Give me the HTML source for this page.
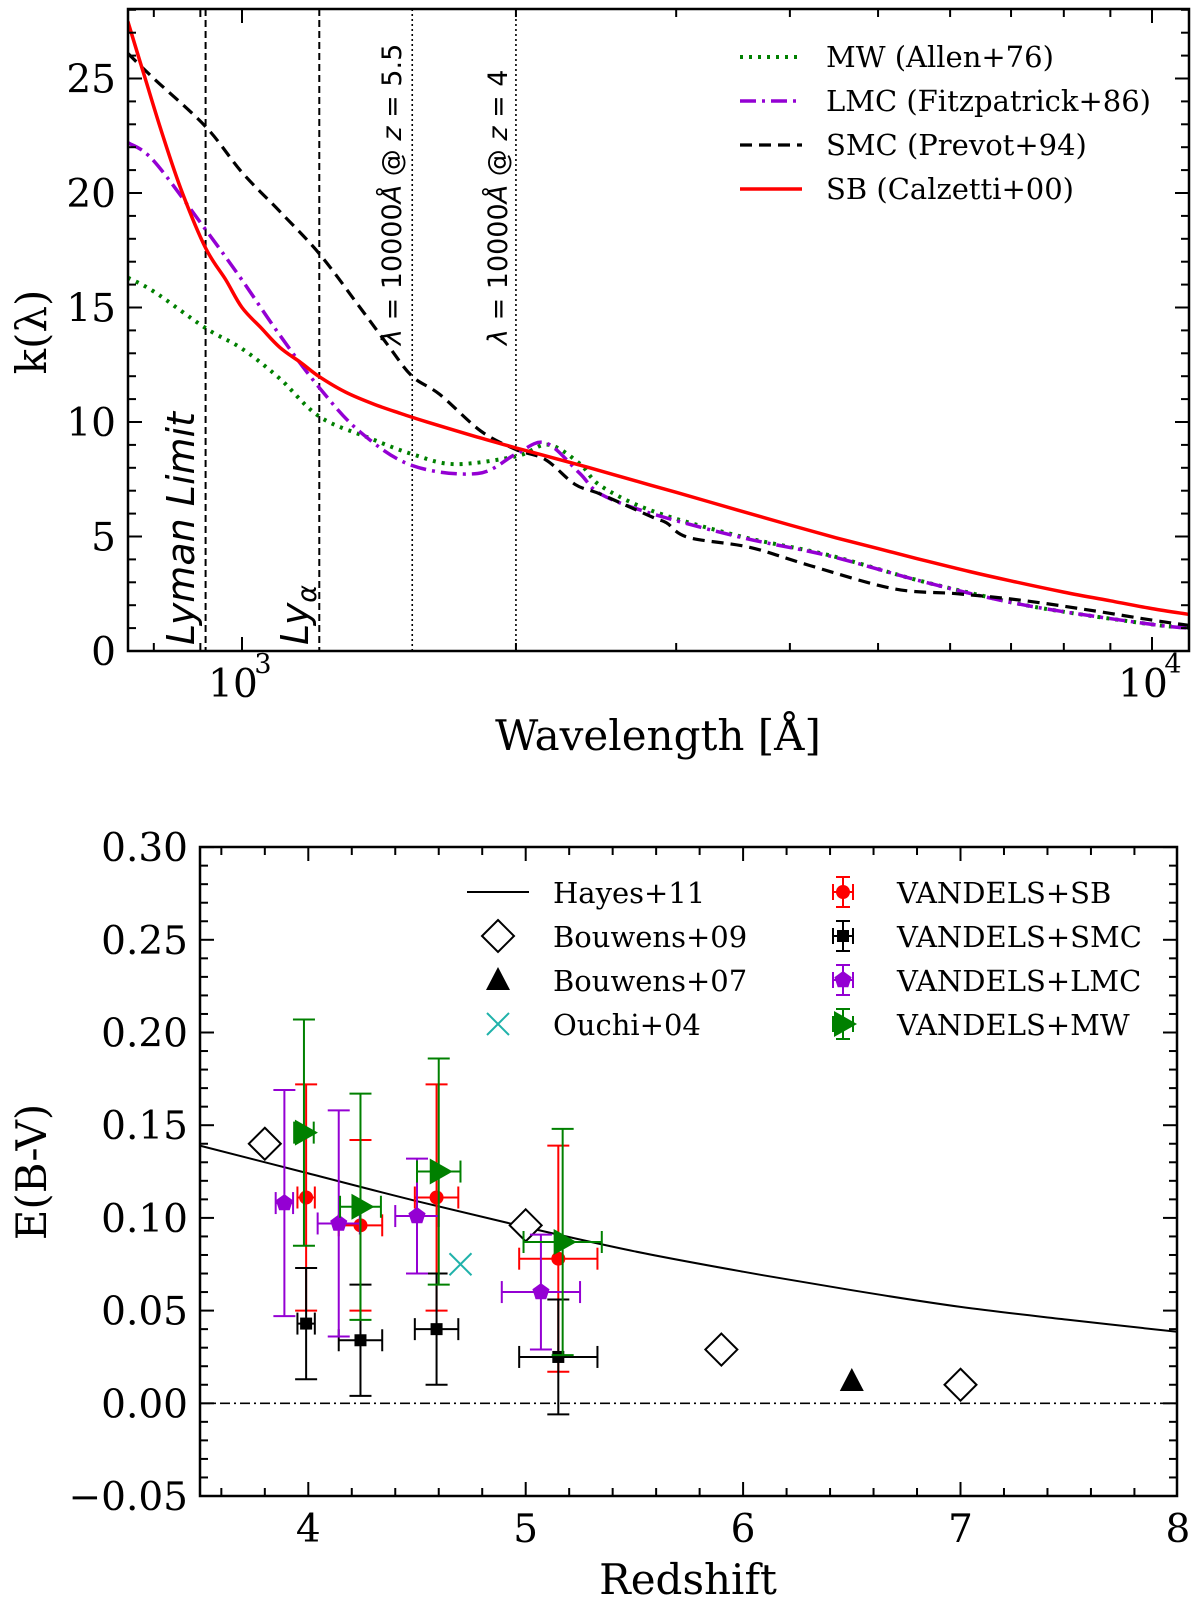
<!DOCTYPE html>
<html><head><meta charset="utf-8"><style>
html,body{margin:0;padding:0;background:#fff;}
svg{display:block;}
text{font-family:"DejaVu Serif","Liberation Serif",serif;fill:#000;}
.sans{font-family:"DejaVu Sans","Liberation Sans",sans-serif;}
</style></head><body>
<svg id="fig" width="1200" height="1599" viewBox="0 0 1200 1599" xmlns="http://www.w3.org/2000/svg">
<g id="top"></g>
<g id="bot"></g>
</svg>
<script>
// ---------- top panel data ----------
const sbWl = [749,780,820,860,912,960,1000,1050,1100,1160,1216,1300,1400,1500,1600,1800,2000,2175,2400,2700,3000,3500,4000,4500,5000,5500,6300,7000,8000,9000,10000,10985];
const sbK = [27.5,25.2,22.4,20.0,17.6,16.2,15.0,14.1,13.26,12.6,11.98,11.3,10.76,10.35,9.99,9.38,8.87,8.48,8.02,7.44,6.93,6.16,5.5,4.94,4.47,4.05,3.47,3.06,2.57,2.19,1.85,1.6];
const smcWl = [749,800,912,1000,1100,1216,1348,1450,1538,1650,1831,2000,2155,2322,2481,2831,2927,3093,3612,4210,5198,6119,7208,8492,10000,10985];
const smcK = [26.1,25.0,22.9,20.9,19.2,17.35,15.0,13.3,12.0,11.2,9.6,8.8,8.36,7.28,6.84,5.83,5.6,4.96,4.53,3.73,2.72,2.5,2.21,1.8,1.35,1.12];
const lmcWl = [749,800,912,1000,1100,1216,1348,1538,1815,2000,2155,2347,2481,2831,3536,4400,5458,6450,7616,10000,10985];
const lmcK = [22.2,21.4,18.4,16.2,13.8,11.5,9.57,8.1,7.75,8.6,9.09,7.78,6.84,5.98,4.96,4.17,3.15,2.43,1.85,1.16,1.0];
const mwWl = [749,800,912,1000,1100,1216,1380,1538,1712,2000,2170,2347,2481,2831,3536,4400,5458,6450,7616,10000,10985];
const mwK = [16.3,15.7,14.1,13.2,11.9,10.24,9.3,8.6,8.16,8.5,9.01,8.2,7.2,6.1,5.0,4.2,3.15,2.45,1.85,1.16,1.02];
const topYTicks = [0,5,10,15,20,25];
const vLines = [912,1216,1538.46,2000];

// ---------- bottom panel data ----------
const hayesZ = [3.5,4,4.5,5,5.5,6,6.5,7,7.5,8];
const hayesE = [0.139,0.124,0.109,0.095,0.082,0.071,0.061,0.052,0.045,0.0385];
const b09Z = [3.8,5.0,5.9,7.0];
const b09E = [0.140,0.096,0.029,0.010];
const b07Z = [6.5];
const b07E = [0.012];
const ouZ = [4.7];
const ouE = [0.075];
const sbZ = [3.99,4.24,4.59,5.15];
const sbE = [0.111,0.096,0.111,0.078];
const sbEerr = [0.061,0.046,0.061,0.061];
const sbZerr = [0.04,0.1,0.1,0.18];
const smcZ = [3.99,4.24,4.59,5.15];
const smcE = [0.043,0.034,0.040,0.025];
const smcEerr = [0.030,0.030,0.030,0.031];
const smcZerr = [0.04,0.1,0.1,0.18];
const lmcZ = [3.89,4.14,4.50,5.07];
const lmcE = [0.108,0.097,0.101,0.060];
const lmcEerr = [0.061,0.061,0.031,0.031];
const lmcZerr = [0.04,0.097,0.1,0.18];
const mwZ = [3.98,4.24,4.60,5.17];
const mwE = [0.146,0.106,0.125,0.087];
const mwEerr = [0.061,0.061,0.061,0.061];
const mwZerr = [0.045,0.094,0.1,0.18];
const botYTicks = [-0.05,0,0.05,0.10,0.15,0.20,0.25,0.30];
const botXTicks = [4,5,6,7,8];

const NS = "http://www.w3.org/2000/svg";
function mk(parent, tag, attrs, txt){
  const e = document.createElementNS(NS, tag);
  for (const k in attrs) e.setAttribute(k, attrs[k]);
  if (txt !== undefined) e.textContent = txt;
  parent.appendChild(e);
  return e;
}
function smoothPath(pts){
  let d = 'M'+pts[0][0].toFixed(1)+','+pts[0][1].toFixed(1);
  for(let i=0;i<pts.length-1;i++){
    const p0=pts[Math.max(0,i-1)], p1=pts[i], p2=pts[i+1], p3=pts[Math.min(pts.length-1,i+2)];
    const c1x=p1[0]+(p2[0]-p0[0])/6, c1y=p1[1]+(p2[1]-p0[1])/6;
    const c2x=p2[0]-(p3[0]-p1[0])/6, c2y=p2[1]-(p3[1]-p1[1])/6;
    d += 'C'+c1x.toFixed(1)+','+c1y.toFixed(1)+' '+c2x.toFixed(1)+','+c2y.toFixed(1)+' '+p2[0].toFixed(1)+','+p2[1].toFixed(1);
  }
  return d;
}
// ---------- TOP ----------
const T = document.getElementById('top');
const tL=128, tR=1189, tT=9, tB=651;
const xT = w => 242 + (Math.log10(w)-3)*910;
const yT = k => 651 - k*22.9;
const clipT = mk(T,'clipPath',{id:'ct'});
mk(clipT,'rect',{x:tL,y:tT,width:tR-tL,height:tB-tT});

vLines.forEach((w,i)=>{
  const l = mk(T,'line',{x1:xT(w),x2:xT(w),y1:tT,y2:tB,stroke:'#000','stroke-width':i<2?2:1.6,'stroke-dasharray':i<2?'7 4':'2 3'});
  
  
});

function curve(wl, kv, color, dash, width, name){
  const pts = wl.map((w,i)=>[xT(w), yT(kv[i])]);
  const p = mk(T,'path',{d:smoothPath(pts),fill:'none',stroke:color,'stroke-width':width,'stroke-dasharray':dash,'clip-path':'url(#ct)','stroke-linejoin':'round'});
  
  
}
curve(mwWl, mwK, '#008000', '3 6', 4, 'mw-curve');
curve(lmcWl, lmcK, '#9400d3', '16 6 3 6', 3.5, 'lmc-curve');
curve(smcWl, smcK, '#000', '12 7', 3.2, 'smc-curve');
curve(sbWl, sbK, '#ff0000', '', 3.5, 'sb-curve');

const fT = mk(T,'rect',{x:tL,y:tT,width:tR-tL,height:tB-tT,fill:'none',stroke:'#000','stroke-width':2.5});


for(let k=0;k<=28;k++){
  const len = (k%5===0)?14:8;
  mk(T,'line',{x1:tL,x2:tL+len,y1:yT(k),y2:yT(k),stroke:'#000','stroke-width':2});
  mk(T,'line',{x1:tR,x2:tR-len,y1:yT(k),y2:yT(k),stroke:'#000','stroke-width':2});
}
topYTicks.forEach(v=>{
  const t = mk(T,'text',{x:116,y:yT(v)+14,'font-size':39,'text-anchor':'end'},String(v));
  
  
});
for(let dec=100; dec<=10000; dec*=10){
  for(let m=1;m<10;m++){
    const w = dec*m;
    if (w<749 || w>10985) continue;
    const x = xT(w), len = (m===1)?14:8;
    mk(T,'line',{x1:x,x2:x,y1:tB,y2:tB-len,stroke:'#000','stroke-width':2});
    mk(T,'line',{x1:x,x2:x,y1:tT,y2:tT+len,stroke:'#000','stroke-width':2});
  }
}
[[1000,'3'],[10000,'4']].forEach(([w,e])=>{
  const t = mk(T,'text',{x:xT(w)-9,y:697,'font-size':39,'text-anchor':'middle'},'10');
  
  
  mk(T,'text',{x:xT(w)+21,y:673,'font-size':27,'text-anchor':'middle'},e);
});
let t1 = mk(T,'text',{x:658,y:750,'font-size':42,'text-anchor':'middle'},'Wavelength [Å]');


let t2 = mk(T,'text',{x:0,y:0,'font-size':42,'text-anchor':'middle',transform:'translate(46,332) rotate(-90)'},'k(λ)');


let a1 = mk(T,'text',{x:0,y:0,'font-size':38,'font-style':'italic',class:'sans',transform:'translate(194,645) rotate(-90)'},'Lyman Limit');


let a2 = mk(T,'text',{x:0,y:0,'font-size':38,'font-style':'italic',class:'sans',transform:'translate(308,645) rotate(-90)'},'');


mk(a2,'tspan',{},'Ly');
mk(a2,'tspan',{'font-size':27,dy:8},'α');
function zlab(x, z, name){
  const t = mk(T,'text',{x:0,y:0,'font-size':27,class:'sans',transform:'translate('+x+',345) rotate(-90)'},'');
  
  
  mk(t,'tspan',{'font-style':'italic'},'λ');
  mk(t,'tspan',{},' = 10000');
  mk(t,'tspan',{'font-style':'italic'},'Å');
  mk(t,'tspan',{},' @ ');
  mk(t,'tspan',{'font-style':'italic'},'z');
  mk(t,'tspan',{},' = '+z);
}
zlab(401,'5.5','z55-label');
zlab(507,'4','z4-label');
const legT = [['MW (Allen+76)','#008000','3 6',4],['LMC (Fitzpatrick+86)','#9400d3','16 6 3 6',3.5],['SMC (Prevot+94)','#000','12 7',3.2],['SB (Calzetti+00)','#ff0000','',3.5]];
legT.forEach((r,i)=>{
  const y = 57 + i*44;
  const g = mk(T,'g',{});
  
  
  mk(g,'line',{x1:740,x2:802,y1:y,y2:y,stroke:r[1],'stroke-width':r[3],'stroke-dasharray':r[2]});
  mk(g,'text',{x:826,y:y+10,'font-size':29},r[0]);
});

// ---------- BOTTOM ----------
const B = document.getElementById('bot');
const bL=200, bR=1177, bT=847, bB=1496;
const xB = z => 308.3 + (z-4)*217.4;
const yB = e => 1403.3 - e*1854;
const clipB = mk(B,'clipPath',{id:'cb'});
mk(clipB,'rect',{x:bL,y:bT,width:bR-bL,height:bB-bT});
let zl = mk(B,'line',{x1:bL,x2:bR,y1:yB(0),y2:yB(0),stroke:'#000','stroke-width':1.6,'stroke-dasharray':'10 4 2 4'});


const hpts = hayesZ.map((z,i)=>[xB(z), yB(hayesE[i])]);
let hp = mk(B,'path',{d:smoothPath(hpts),fill:'none',stroke:'#000','stroke-width':2,'clip-path':'url(#cb)'});



function diamond(g,x,y,s,fill){ mk(g,'polygon',{points:`${x},${y-s} ${x+s},${y} ${x},${y+s} ${x-s},${y}`,fill:fill,stroke:'#000','stroke-width':2}); }
b09Z.forEach((z,i)=>{
  const g = mk(B,'g',{});
  
  
  diamond(g,xB(z),yB(b09E[i]),16,'#fff');
});
b07Z.forEach((z,i)=>{
  const x=xB(z), y=yB(b07E[i]);
  const p = mk(B,'polygon',{points:`${x},${y-13} ${x+12},${y+10} ${x-12},${y+10}`,fill:'#000'});
  
  
});
ouZ.forEach((z,i)=>{
  const x=xB(z), y=yB(ouE[i]);
  const g = mk(B,'g',{stroke:'#20b2aa','stroke-width':2});
  
  
  mk(g,'line',{x1:x-11,y1:y-11,x2:x+11,y2:y+11});
  mk(g,'line',{x1:x-11,y1:y+11,x2:x+11,y2:y-11});
});
function marker(g,type,x,y,c){
  if(type==='circle') mk(g,'circle',{cx:x,cy:y,r:7,fill:c});
  else if(type==='square') mk(g,'rect',{x:x-6,y:y-6,width:12,height:12,fill:c});
  else if(type==='pent'){
    let pts=[]; for(let j=0;j<5;j++){const a=-Math.PI/2+j*2*Math.PI/5; pts.push((x+9*Math.cos(a)).toFixed(1)+','+(y+9*Math.sin(a)).toFixed(1));}
    mk(g,'polygon',{points:pts.join(' '),fill:c});
  } else if(type==='tri') mk(g,'polygon',{points:`${x-9},${y-13} ${x+14},${y} ${x-9},${y+13}`,fill:c});
}
function errSeries(Z,E,Ee,Ze,c,type,name){
  Z.forEach((z,i)=>{
    const x=xB(z), y=yB(E[i]), y1=yB(E[i]+Ee[i]), y2=yB(E[i]-Ee[i]), x1=xB(z-Ze[i]), x2=xB(z+Ze[i]);
    const g = mk(B,'g',{stroke:c,'stroke-width':2,'clip-path':'url(#cb)'});
    
    
    mk(g,'line',{x1:x,x2:x,y1:y1,y2:y2});
    mk(g,'line',{x1:x1,x2:x2,y1:y,y2:y});
    mk(g,'line',{x1:x-11,x2:x+11,y1:y1,y2:y1});
    mk(g,'line',{x1:x-11,x2:x+11,y1:y2,y2:y2});
    mk(g,'line',{x1:x1,x2:x1,y1:y-11,y2:y+11});
    mk(g,'line',{x1:x2,x2:x2,y1:y-11,y2:y+11});
    const m = mk(B,'g',{});
    marker(m,type,x,y,c);
  });
}
errSeries(sbZ,sbE,sbEerr,sbZerr,'#ff0000','circle','vandels-sb-point');
errSeries(smcZ,smcE,smcEerr,smcZerr,'#000','square','vandels-smc-point');
errSeries(lmcZ,lmcE,lmcEerr,lmcZerr,'#9400d3','pent','vandels-lmc-point');
errSeries(mwZ,mwE,mwEerr,mwZerr,'#008000','tri','vandels-mw-point');

const fB = mk(B,'rect',{x:bL,y:bT,width:bR-bL,height:bB-bT,fill:'none',stroke:'#000','stroke-width':2.5});


for(let i=0;i<=35;i++){
  const e=-0.05+i*0.01, y=yB(e), len=(i%5===0)?14:8;
  mk(B,'line',{x1:bL,x2:bL+len,y1:y,y2:y,stroke:'#000','stroke-width':2});
  mk(B,'line',{x1:bR,x2:bR-len,y1:y,y2:y,stroke:'#000','stroke-width':2});
}
for(let i=0;i<=22;i++){
  const z=3.6+i*0.2, x=xB(z), major=Math.abs(z-Math.round(z))<1e-6, len=major?14:8;
  if(x<bL+1||x>bR-1) continue;
  mk(B,'line',{x1:x,x2:x,y1:bB,y2:bB-len,stroke:'#000','stroke-width':2});
  mk(B,'line',{x1:x,x2:x,y1:bT,y2:bT+len,stroke:'#000','stroke-width':2});
}
botYTicks.forEach(v=>{
  const lab = (v<0?'\u22120.05':v.toFixed(2));
  const t = mk(B,'text',{x:188,y:yB(v)+14,'font-size':39,'text-anchor':'end'},lab);
  
  
});
botXTicks.forEach(v=>{
  const t = mk(B,'text',{x:xB(v),y:1542,'font-size':39,'text-anchor':'middle'},String(v));
  
  
});
let t3 = mk(B,'text',{x:688,y:1594,'font-size':42,'text-anchor':'middle'},'Redshift');


let t4 = mk(B,'text',{x:0,y:0,'font-size':42,'text-anchor':'middle',transform:'translate(46,1172) rotate(-90)'},'E(B-V)');


const legRows=[892,936,980,1024];
const leftLab=['Hayes+11','Bouwens+09','Bouwens+07','Ouchi+04'];
leftLab.forEach((s,i)=>{
  const y=legRows[i];
  const g=mk(B,'g',{});
  
  
  const cx=498;
  if(i===0) mk(g,'line',{x1:467,x2:529,y1:y,y2:y,stroke:'#000','stroke-width':2});
  if(i===1) diamond(g,cx,y,16,'#fff');
  if(i===2) mk(g,'polygon',{points:`${cx},${y-13} ${cx+12},${y+10} ${cx-12},${y+10}`,fill:'#000'});
  if(i===3){ mk(g,'line',{x1:cx-11,y1:y-11,x2:cx+11,y2:y+11,stroke:'#20b2aa','stroke-width':2}); mk(g,'line',{x1:cx-11,y1:y+11,x2:cx+11,y2:y-11,stroke:'#20b2aa','stroke-width':2}); }
  mk(g,'text',{x:553,y:y+11,'font-size':29},s);
});
const rightLab=[['VANDELS+SB','#ff0000','circle'],['VANDELS+SMC','#000','square'],['VANDELS+LMC','#9400d3','pent'],['VANDELS+MW','#008000','tri']];
rightLab.forEach((r,i)=>{
  const y=legRows[i], x=843;
  const g=mk(B,'g',{});
  
  
  const s=mk(g,'g',{stroke:r[1],'stroke-width':2});
  mk(s,'line',{x1:x,x2:x,y1:y-15,y2:y+15});
  mk(s,'line',{x1:x-10,x2:x+10,y1:y,y2:y});
  mk(s,'line',{x1:x-7,x2:x+7,y1:y-15,y2:y-15});
  mk(s,'line',{x1:x-7,x2:x+7,y1:y+15,y2:y+15});
  mk(s,'line',{x1:x-10,x2:x-10,y1:y-8,y2:y+8});
  mk(s,'line',{x1:x+10,x2:x+10,y1:y-8,y2:y+8});
  marker(g,r[2],x,y,r[1]);
  mk(g,'text',{x:897,y:y+11,'font-size':29},r[0]);
});
</script>
</body></html>
